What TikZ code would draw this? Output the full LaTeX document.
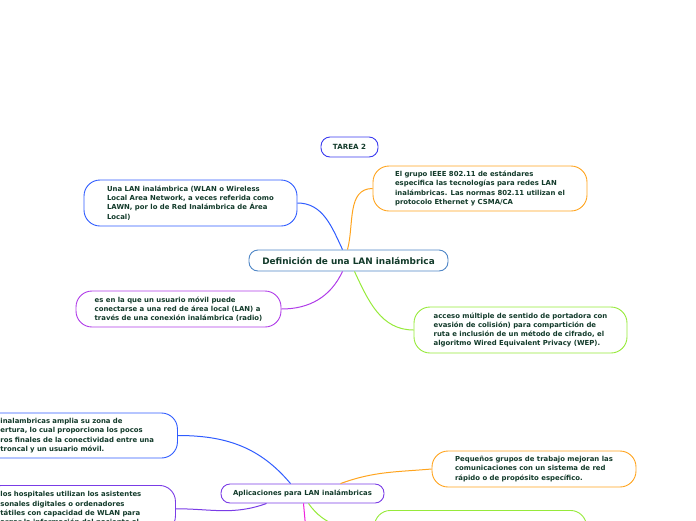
\documentclass[tikz,border=0pt]{standalone}
\usepackage{fontspec}
\setmainfont{DejaVu Sans}
\usetikzlibrary{positioning}
\usepackage{xcolor}

\definecolor{txtgreen}{HTML}{123A2A}
\definecolor{mapblue}{HTML}{2F5CFF}
\definecolor{tareablue}{HTML}{3B3BF0}
\definecolor{rootblue}{HTML}{4F86C6}
\definecolor{maporange}{HTML}{FFA41E}
\definecolor{mappurple}{HTML}{B03CE8}
\definecolor{mapviolet}{HTML}{7A3CE6}
\definecolor{mapgreen}{HTML}{96EA3A}
\definecolor{mapmagenta}{HTML}{EE22DD}

\tikzset{
  topic/.style={draw, fill=white, line width=0.9pt, rounded corners=9pt, text=txtgreen,
    font=\bfseries\fontsize{6.9}{8}\selectfont, align=center, inner sep=0pt},
  note/.style={draw, fill=white, line width=0.9pt, rounded corners=16pt, text=txtgreen,
    font=\bfseries\fontsize{6.9}{9.3}\selectfont, align=left, inner sep=0pt},
  link/.style={line width=1pt},
}

\begin{document}
\begin{tikzpicture}[x=1pt,y=-1pt]
\useasboundingbox (0,0) rectangle (696,520);
\clip (0,0) rectangle (696,520);

% central topic and its notes
\node[topic,draw=tareablue,minimum width=57pt,minimum height=20pt,font=\bfseries\fontsize{7.1}{8}\selectfont] (tarea) at (349.5,147) {TAREA 2};
\node[topic,draw=rootblue,minimum width=199pt,minimum height=21pt,font=\bfseries\fontsize{8.9}{10}\selectfont] (def) at (348.5,260.5) {Definición de una LAN inalámbrica};
\node[note,draw=mapblue,minimum width=213pt,minimum height=46pt] (wlan) at (190.5,203)
  {Una LAN inalámbrica (WLAN o Wireless\\Local Area Network, a veces referida como\\LAWN, por lo de Red Inalámbrica de Área\\Local)};
\node[note,draw=maporange,minimum width=214pt,minimum height=45pt] (ieee) at (480,188.5)
  {El grupo IEEE 802.11 de estándares\\especifica las tecnologías para redes LAN\\inalámbricas. Las normas 802.11 utilizan el\\protocolo Ethernet y CSMA/CA};
\node[note,draw=mappurple,minimum width=205pt,minimum height=36pt] (movil) at (178.5,309)
  {es en la que un usuario móvil puede\\conectarse a una red de área local (LAN) a\\través de una conexión inalámbrica (radio)};
\node[note,draw=mapgreen,minimum width=213pt,minimum height=46pt] (acceso) at (520.5,330)
  {acceso múltiple de sentido de portadora con\\evasión de colisión) para compartición de\\ruta e inclusión de un método de cifrado, el\\algoritmo Wired Equivalent Privacy (WEP).};

% second topic
\node[topic,draw=mapviolet,minimum width=163pt,minimum height=19pt] (apps) at (302.5,493.5) {Aplicaciones para LAN inalámbricas};
\node[note,draw=mapblue,anchor=west,minimum height=45pt,text width=160pt,inner xsep=17pt] (cobert) at (-17,435.5)
  {inalambricas amplia su zona de\\ertura, lo cual proporciona los pocos\\ros finales de la conectividad entre una\\troncal y un usuario móvil.};
\node[note,draw=mapviolet,anchor=north west,text width=160pt,inner xsep=15pt,inner ysep=6pt] (hosp) at (-15,485)
  {los hospitales utilizan los asistentes\\sonales digitales o ordenadores\\tátiles con capacidad de WLAN para\\argar la información del paciente al};
\node[note,draw=maporange,minimum width=204pt,minimum height=36pt] (pequenos) at (534,469)
  {Pequeños grupos de trabajo mejoran las\\comunicaciones con un sistema de red\\rápido o de propósito específico.};
\node[note,draw=mapgreen,anchor=north west,minimum width=208pt,minimum height=40pt,text width=180pt,inner xsep=16pt,inner ysep=4pt] (trabaj) at (374,510)
  {Los trabajadores de espectáculos};
\coordinate (below) at (307,560);

% connectors
\draw[link,mapblue] (wlan.east) to[out=0,in=115] ([xshift=-6pt]def.north);
\draw[link,maporange] (ieee.west) to[out=180,in=75] ([xshift=-1pt]def.north);
\draw[link,mappurple] (movil.east) to[out=0,in=-115] ([xshift=-6pt]def.south);
\draw[link,mapgreen] (acceso.west) to[out=180,in=-65] ([xshift=6pt]def.south);

\draw[link,mapblue] (cobert.east) to[out=0,in=130] ([xshift=-12pt]apps.north);
\draw[link,maporange] (pequenos.west) to[out=185,in=20] ([xshift=38pt]apps.north);
\draw[link,mapviolet] (hosp.east) to[out=0,in=-160] ([xshift=-36pt]apps.south);
\draw[link,mapmagenta] ([xshift=1pt]apps.south) to[out=-85,in=90] (below);
\draw[link,mapgreen] ([xshift=6pt]apps.south) to[out=-55,in=180] (trabaj.west);
\end{tikzpicture}
\end{document}
